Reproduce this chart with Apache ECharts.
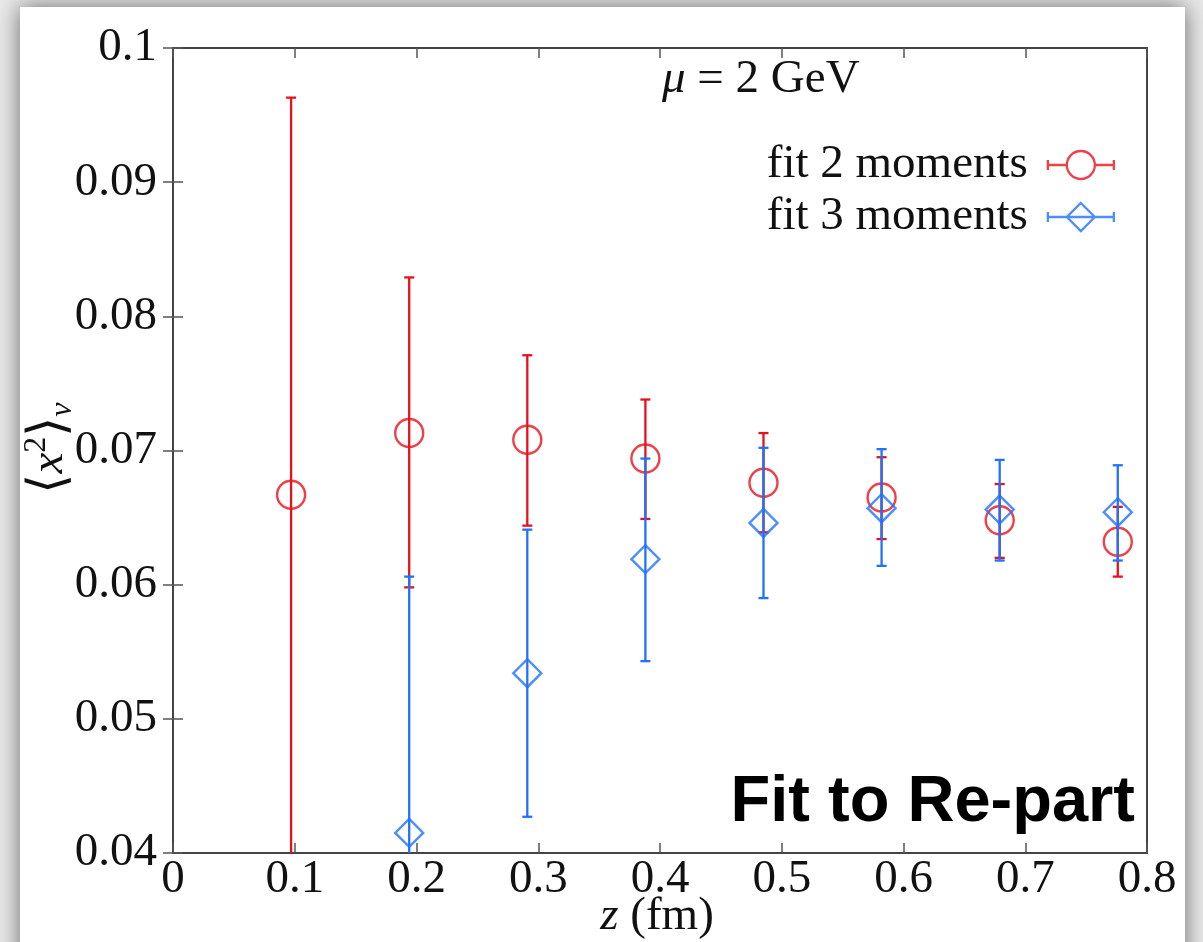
<!DOCTYPE html>
<html>
<head>
<meta charset="utf-8">
<title>Moment fit vs z</title>
<script src="https://cdn.jsdelivr.net/npm/echarts@6/dist/echarts.min.js"></script>
<style>
  html, body { margin: 0; padding: 0; background: #e9e9e9; }
  #chart { width: 1203px; height: 942px; }
</style>
</head>
<body>
<div id="chart"></div>
<script>
// Separation z (fm) of the lattice points
const zValues = [0.097, 0.194, 0.291, 0.388, 0.485, 0.582, 0.679, 0.776];

// <x^2>_v from the two-moment fit: central value, lower and upper error-bar ends
const twoMom   = [0.0667, 0.0713, 0.0708, 0.0694, 0.0676, 0.0665, 0.0648, 0.0632];
const twoMomLo = [0.0370, 0.0598, 0.0644, 0.0649, 0.0639, 0.0634, 0.0620, 0.0606];
const twoMomHi = [0.0963, 0.0829, 0.0771, 0.0738, 0.0713, 0.0695, 0.0675, 0.0658];

// <x^2>_v from the three-moment fit (no value at the first z)
const threeMom   = [null, 0.0415, 0.0534, 0.0619, 0.0646, 0.0657, 0.0656, 0.0654];
const threeMomLo = [null, 0.0224, 0.0427, 0.0543, 0.0590, 0.0614, 0.0618, 0.0618];
const threeMomHi = [null, 0.0606, 0.0641, 0.0694, 0.0702, 0.0701, 0.0693, 0.0689];

// Tick labels
const xTickLabels = ['0', '0.1', '0.2', '0.3', '0.4', '0.5', '0.6', '0.7', '0.8'];
const yTickLabels = ['0.04', '0.05', '0.06', '0.07', '0.08', '0.09', '0.1'];

const X_MIN = 0, X_MAX = 0.8, X_STEP = 0.1;
const Y_MIN = 0.04, Y_MAX = 0.1, Y_STEP = 0.01;

const RED = '#e8101a';
const BLUE = '#1f72ff';
const SERIF = '"Liberation Serif", "Times New Roman", serif';
const FS = 47;

function buildRows(vals, lo, hi) {
  const rows = [];
  for (let i = 0; i < zValues.length; i++) {
    if (vals[i] == null) continue;
    rows.push([zValues[i], vals[i], lo[i], hi[i]]);
  }
  return rows;
}
const rowsTwo = buildRows(twoMom, twoMomLo, twoMomHi);
const rowsThree = buildRows(threeMom, threeMomLo, threeMomHi);

// Vertical error bar with end caps, clipped to the plotting range
function errorBar(color) {
  return function (params, api) {
    const x = api.value(0);
    const lo = api.value(2);
    const hi = api.value(3);
    const loC = Math.max(lo, Y_MIN);
    const hiC = Math.min(hi, Y_MAX);
    const pTop = api.coord([x, hiC]);
    const pBot = api.coord([x, loC]);
    const half = 5;
    const st = { stroke: color, lineWidth: 2.3 };
    const kids = [{
      type: 'line',
      shape: { x1: pTop[0], y1: pTop[1], x2: pBot[0], y2: pBot[1] },
      style: st
    }];
    if (hi <= Y_MAX) {
      kids.push({ type: 'line', shape: { x1: pTop[0] - half, y1: pTop[1], x2: pTop[0] + half, y2: pTop[1] }, style: st });
    }
    if (lo >= Y_MIN) {
      kids.push({ type: 'line', shape: { x1: pBot[0] - half, y1: pBot[1], x2: pBot[0] + half, y2: pBot[1] }, style: st });
    }
    return { type: 'group', children: kids };
  };
}

const tickStyle = { show: true, inside: true, length: 10, lineStyle: { color: '#555', width: 1.5 } };
const labelStyle = { fontFamily: SERIF, fontSize: FS, color: '#111' };

const option = {
  backgroundColor: '#e9e9e9',
  animation: false,
  grid: {
    left: 173, right: 56, top: 48, bottom: 89,
    show: true, borderColor: '#444', borderWidth: 2, backgroundColor: 'transparent'
  },
  xAxis: [{
    type: 'value', position: 'bottom', min: X_MIN, max: X_MAX, interval: X_STEP,
    axisLine: { show: false }, splitLine: { show: false }, axisTick: tickStyle,
    axisLabel: Object.assign({
      margin: 3,
      formatter: v => xTickLabels[Math.round((v - X_MIN) / X_STEP)]
    }, labelStyle)
  }, {
    type: 'value', position: 'top', min: X_MIN, max: X_MAX, interval: X_STEP,
    axisLine: { show: false }, splitLine: { show: false }, axisTick: tickStyle,
    axisLabel: { show: false }
  }],
  yAxis: [{
    type: 'value', position: 'left', min: Y_MIN, max: Y_MAX, interval: Y_STEP,
    axisLine: { show: false }, splitLine: { show: false }, axisTick: tickStyle,
    axisLabel: Object.assign({
      margin: 16, padding: [0, 0, 8, 0],
      formatter: v => yTickLabels[Math.round((v - Y_MIN) / Y_STEP)]
    }, labelStyle)
  }, {
    type: 'value', position: 'right', min: Y_MIN, max: Y_MAX, interval: Y_STEP,
    axisLine: { show: false }, splitLine: { show: false }, axisTick: tickStyle,
    axisLabel: { show: false }
  }],
  legend: {
    orient: 'vertical', right: 82, top: 134, align: 'right',
    itemWidth: 68, itemHeight: 28, itemGap: 0, selectedMode: false,
    textStyle: { fontFamily: SERIF, fontSize: FS, color: '#111', lineHeight: 52, padding: [0, 14, 0, 0] },
    data: [{
      name: 'fit 2 moments',
      icon: 'path://M0,14H20M48,14H68M1,9V19M67,9V19M48,14A14,14,0,1,1,20,14A14,14,0,1,1,48,14Z',
      itemStyle: { color: 'rgba(0,0,0,0)', borderColor: RED, borderWidth: 2.3 }
    }, {
      name: 'fit 3 moments',
      icon: 'path://M0,14H68M1,9V19M67,9V19M34,0L48,14L34,28L20,14Z',
      itemStyle: { color: 'rgba(0,0,0,0)', borderColor: BLUE, borderWidth: 2.3 }
    }]
  },
  graphic: [
    { // white card behind the plot
      type: 'rect', z: -100, silent: true,
      shape: { x: 20, y: 7, width: 1165, height: 960 },
      style: { fill: '#ffffff', shadowBlur: 22, shadowColor: 'rgba(0,0,0,0.55)' }
    },
    {
      type: 'text', z: 100, x: 662, y: 80,
      style: {
        text: '{i|μ}{r| = 2 GeV}', verticalAlign: 'middle', align: 'left',
        rich: {
          i: { fontFamily: SERIF, fontStyle: 'italic', fontSize: FS, fill: '#111' },
          r: { fontFamily: SERIF, fontSize: FS, fill: '#111' }
        }
      }
    },
    {
      type: 'text', z: 100, x: 1135, y: 803,
      style: {
        text: 'Fit to Re-part', align: 'right', verticalAlign: 'middle',
        font: 'bold 65px "Liberation Sans", Arial, sans-serif', fill: '#000'
      }
    },
    {
      type: 'text', z: 100, x: 657, y: 917,
      style: {
        text: '{i|z}{r| (fm)}', align: 'center', verticalAlign: 'middle',
        rich: {
          i: { fontFamily: SERIF, fontStyle: 'italic', fontSize: FS, fill: '#111' },
          r: { fontFamily: SERIF, fontSize: FS, fill: '#111' }
        }
      }
    },
    {
      type: 'text', z: 100, x: 50, y: 448, rotation: Math.PI / 2,
      style: {
        text: '{b|⟨}{i|x}{s|2}{b|⟩}{v|v}', align: 'center', verticalAlign: 'middle',
        rich: {
          b: { fontFamily: SERIF, fontSize: 52, lineHeight: 58, fill: '#111' },
          i: { fontFamily: SERIF, fontStyle: 'italic', fontSize: FS, lineHeight: 58, fill: '#111' },
          s: { fontFamily: SERIF, fontSize: 32, lineHeight: 34, verticalAlign: 'top', fill: '#111' },
          v: { fontFamily: SERIF, fontStyle: 'italic', fontSize: 32, lineHeight: 28, verticalAlign: 'bottom', fill: '#111' }
        }
      }
    }
  ],
  series: [
    {
      name: 'err2', type: 'custom', data: rowsTwo, z: 3,
      encode: { x: 0, y: [1, 2, 3] },
      renderItem: errorBar(RED)
    },
    {
      name: 'fit 2 moments', type: 'scatter', data: rowsTwo, z: 4,
      encode: { x: 0, y: 1 },
      symbol: 'circle', symbolSize: 28,
      itemStyle: { color: 'rgba(0,0,0,0)', borderColor: RED, borderWidth: 2.4 }
    },
    {
      name: 'err3', type: 'custom', data: rowsThree, z: 5,
      encode: { x: 0, y: [1, 2, 3] },
      renderItem: errorBar(BLUE)
    },
    {
      name: 'fit 3 moments', type: 'scatter', data: rowsThree, z: 6,
      encode: { x: 0, y: 1 },
      symbol: 'diamond', symbolSize: 28,
      itemStyle: { color: 'rgba(0,0,0,0)', borderColor: BLUE, borderWidth: 2.4 }
    }
  ]
};

const chart = echarts.init(document.getElementById('chart'), null, { renderer: 'canvas' });
chart.setOption(option);
</script>
</body>
</html>
